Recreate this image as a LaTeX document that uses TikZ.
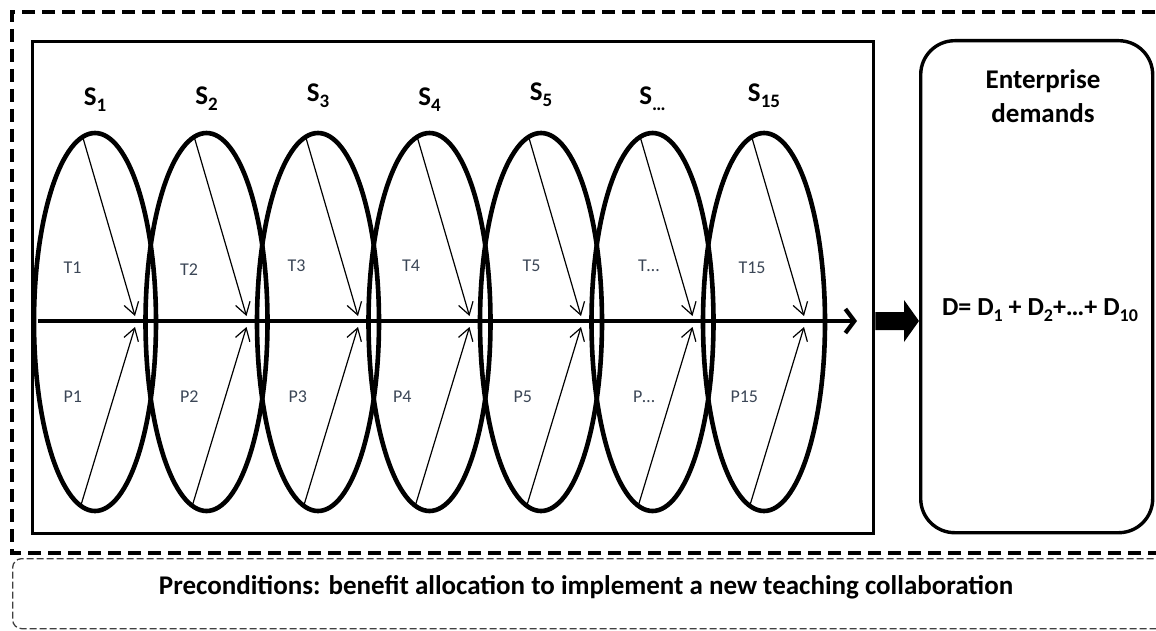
\documentclass[tikz,border=0pt]{standalone}
\usepackage{fontspec}
\setmainfont{Carlito}
\usetikzlibrary{arrows.meta,shapes.geometric}
\definecolor{lbl}{HTML}{3B4656}
\newcommand{\mysub}[2]{\raisebox{-0.22em}{\fontsize{#2}{#2}\selectfont #1}}
\tikzset{
  ell/.style={draw, line width=4.6pt, ellipse, minimum width=122pt, minimum height=378pt, inner sep=0pt},
  thinarr/.style={line width=1.2pt, -{Straight Barb[length=12pt,width=15pt,line width=1.2pt]}},
  tlab/.style={text=lbl, font=\fontsize{18}{20}\selectfont},
  slab/.style={font=\bfseries\fontsize{27}{30}\selectfont},
  boldtxt/.style={font=\bfseries\fontsize{27}{34}\selectfont},
}
\begin{document}
\begin{tikzpicture}[x=1pt,y=-1pt]
\useasboundingbox (0,0) rectangle (1156,631);
% outer dashed frame
\draw[line width=3.4pt, dash pattern=on 13pt off 7pt] (1175,12) -- (12,12) -- (12,553) -- (1175,553);
% preconditions box
\node[draw=black!75, line width=1.3pt, dash pattern=on 7pt off 3pt, rounded corners=9pt, minimum width=1180pt, minimum height=70pt, anchor=north west] (pre) at (12,558) {};
\node[boldtxt] (pretxt) at (586,587) {Preconditions: benefit allocation to implement a new teaching collaboration};
% inner rectangle
\node[draw, line width=3.4pt, minimum width=841pt, minimum height=492pt, anchor=north west] (inner) at (31,40) {};
% ellipses
\foreach \i/\s/\tx/\ty/\px/\sy in {1/1/-35/268/-35/100,2/2/-30/270/-30/99,3/3/-34/266/-33/96,4/4/-31/266/-40/100,5/5/-22/266/-31/95,6/{\dots}/-18/266/-23/99,7/15/-29/268/-37/96}{
  \pgfmathsetmacro{\cx}{95+111.5*(\i-1)}
  \node[ell] (e\i) at (\cx,322) {};
  \node[slab] (s\i) at (\cx,\sy) {S\mysub{\s}{19}};
  \node[tlab, anchor=west] (t\i) at (\cx+\tx,\ty) {T\s};
  \node[tlab, anchor=west] (p\i) at (\cx+\px,397) {P\s};
  \coordinate (ta\i) at (\cx-12,138);
  \coordinate (tb\i) at (\cx+40,316);
  \coordinate (ba\i) at (\cx-14,505);
  \coordinate (bb\i) at (\cx+40,327);
  \draw[thinarr] (ta\i) -- (tb\i);
  \draw[thinarr] (ba\i) -- (bb\i);
}
% main horizontal arrow
\coordinate (ha) at (38,321);
\coordinate (hb) at (857,321);
\draw[line width=4.2pt, -{Straight Barb[length=9pt,width=24pt,line width=4.2pt]}] (ha) -- (hb);
% right box
\node[draw, line width=3.4pt, rounded corners=34pt, minimum width=232pt, minimum height=492pt, anchor=north west] (dem) at (919,39) {};
\node[boldtxt, align=center] (demtxt) at (1043,96) {Enterprise\\demands};
\node[boldtxt, font=\bfseries\fontsize{26}{30}\selectfont] (dtxt) at (1040,310) {D= D\mysub{1}{18} + D\mysub{2}{18}+\dots+ D\mysub{10}{18}};
% block arrow
\fill (inner.east |- 0,312) -- (904,312) -- (904,300) -- (dem.west |- 0,321) -- (904,342) -- (904,330) -- (inner.east |- 0,330) -- cycle;
\end{tikzpicture}
\end{document}
